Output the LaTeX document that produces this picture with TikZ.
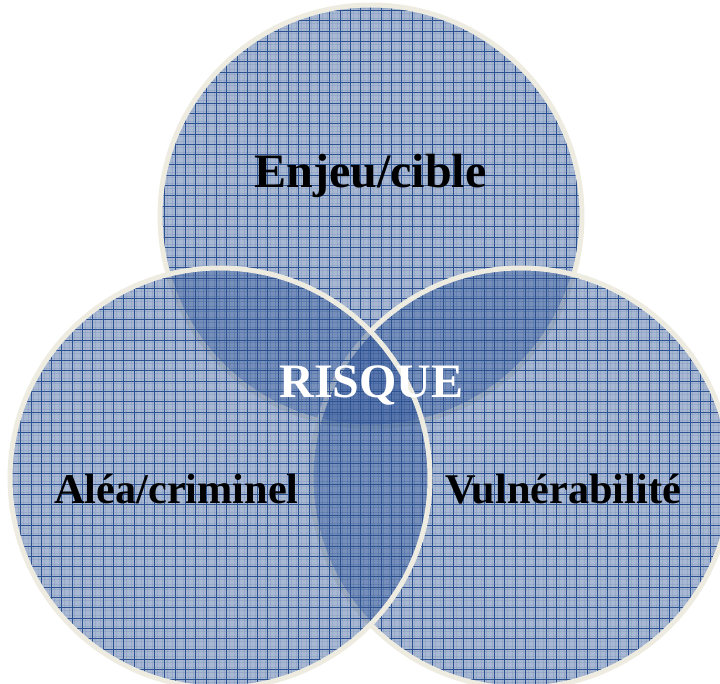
\documentclass[tikz,border=0pt]{standalone}
\usepackage{fontspec}
\setmainfont{Liberation Serif}
\definecolor{circfill}{HTML}{2F5597}
\definecolor{gridcol}{HTML}{2B5190}
\definecolor{rimcol}{HTML}{EEECE1}
\tikzset{
  circfillstyle/.style={fill=circfill, fill opacity=0.42},
  rimstyle/.style={draw=rimcol, line width=5pt},
  gridline/.style={draw=gridcol, line width=0.75pt},
  finegrid/.style={draw=gridcol, line width=0.4pt, draw opacity=0.12},
  bigtext/.style={font=\bfseries\fontsize{48}{50}\selectfont, anchor=base, inner sep=0pt},
  sidetext/.style={font=\bfseries\fontsize{42.3}{44}\selectfont, anchor=base, inner sep=0pt}
}
\newcommand{\venncircle}[3]{%
  \fill[circfillstyle] (#1,#2) circle (#3pt);
  \begin{scope}
    \clip (#1,#2) circle (#3pt);
    \foreach \k in {0,...,140} {
      \draw[finegrid] ({\k*5.15+2.575},0) -- ({\k*5.15+2.575},690);
      \draw[finegrid] (0,{\k*5.15+2.575}) -- (730,{\k*5.15+2.575});
    }
    \foreach \k in {0,...,70} {
      \draw[gridline] ({\k*10.3},0) -- ({\k*10.3},690);
      \draw[gridline] (0,{\k*10.3}) -- (730,{\k*10.3});
    }
  \end{scope}
  \draw[rimstyle] (#1,#2) circle (#3pt);
}
\begin{document}
\begin{tikzpicture}[x=1pt,y=-1pt]
\useasboundingbox (0,0) rectangle (720,684);
\venncircle{371}{216}{211}
\venncircle{521}{478}{210}
\venncircle{220}{478}{210}
\node[bigtext] (enjeu) at (370.5,188) {Enjeu/cible};
\node[bigtext, text=white] (risque) at (371.5,397) {RISQUE};
\node[sidetext] (alea) at (176.5,503) {Aléa/criminel};
\node[sidetext] (vuln) at (563,503) {Vulnérabilité};
\end{tikzpicture}
\end{document}
